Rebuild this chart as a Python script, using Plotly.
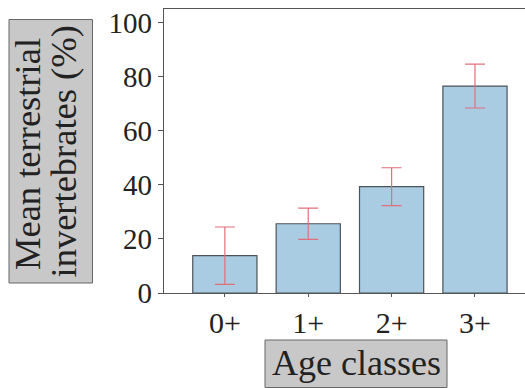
import plotly.graph_objects as go

categories = ["0+", "1+", "2+", "3+"]
means = [13.8, 25.6, 39.3, 76.5]
errors = [10.6, 5.8, 7.0, 8.1]
y_ticks = [0, 20, 40, 60, 80, 100]
y_title_lines = ["Mean terrestrial", "invertebrates (%)"]
x_title = "Age classes"

FONT = "Liberation Serif"
W, H = 525, 388
ML, MR, MT, MB = 164, 0, 9, 95
PW, PH = W - ML - MR, H - MT - MB


def px(x):
    return (x - ML) / PW


def py(y):
    return (H - MB - y) / PH


fig = go.Figure()
fig.add_trace(go.Bar(
    x=list(range(len(categories))), y=means,
    width=0.77,
    marker=dict(color="#a9cce3", line=dict(color="#4d5358", width=1.2)),
    error_y=dict(type="data", array=errors, visible=True,
                 color="#e0707a", thickness=1.2, width=10),
))

shapes = [
    dict(type="rect", xref="paper", yref="paper",
         x0=px(9), x1=px(92.5), y0=py(283), y1=py(19.5),
         fillcolor="#c8c8c8", line=dict(color="#666", width=1)),
    dict(type="rect", xref="paper", yref="paper",
         x0=px(265), x1=px(447), y0=py(387.5), y1=py(340),
         fillcolor="#c8c8c8", line=dict(color="#666", width=1)),
]

annotations = [
    dict(text=y_title_lines[0], textangle=-90, x=px(27), y=py(154),
         xref="paper", yref="paper", showarrow=False, xanchor="center", yanchor="middle",
         font=dict(family=FONT, size=36.5, color="#222")),
    dict(text=y_title_lines[1], textangle=-90, x=px(63), y=py(151.5),
         xref="paper", yref="paper", showarrow=False, xanchor="center", yanchor="middle",
         font=dict(family=FONT, size=36.5, color="#222")),
    dict(text=x_title, x=px(356), y=py(363),
         xref="paper", yref="paper", showarrow=False, xanchor="center", yanchor="middle",
         font=dict(family=FONT, size=36, color="#222")),
]

fig.update_layout(
    width=W, height=H,
    margin=dict(l=ML, r=MR, t=MT, b=MB),
    paper_bgcolor="white", plot_bgcolor="white",
    showlegend=False,
    font=dict(family=FONT, size=29, color="#222"),
    xaxis=dict(
        range=[-0.73, 3.6],
        tickmode="array", tickvals=list(range(len(categories))), ticktext=categories,
        showline=True, linecolor="#555", linewidth=1.2, mirror=True,
        ticks="outside", ticklen=3, tickcolor="#555",
        showgrid=False, zeroline=False,
        tickfont=dict(family=FONT, size=30, color="#222"),
    ),
    yaxis=dict(
        range=[0, 105],
        tickmode="array", tickvals=y_ticks,
        showline=True, linecolor="#555", linewidth=1.2, mirror=True,
        ticks="outside", ticklen=5, tickcolor="#555",
        showgrid=False, zeroline=False,
        tickfont=dict(family=FONT, size=29, color="#222"),
    ),
    shapes=shapes,
    annotations=annotations,
)

fig.write_html("out.html")
